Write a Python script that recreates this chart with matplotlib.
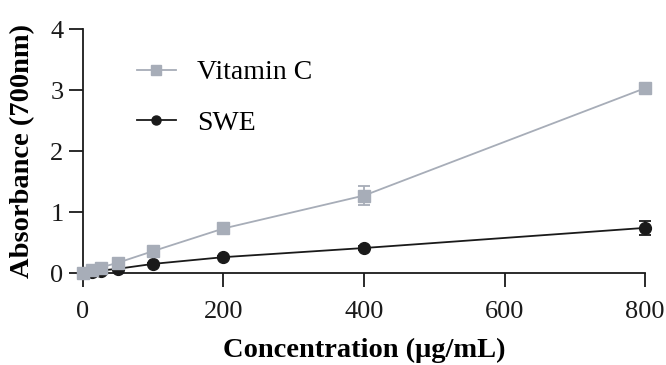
import matplotlib
matplotlib.use("Agg")
import matplotlib.pyplot as plt
from matplotlib.lines import Line2D

conc = [0, 12.5, 25, 50, 100, 200, 400, 800]
vitc = [0.00, 0.05, 0.09, 0.17, 0.36, 0.73, 1.27, 3.03]
vitc_err = [0.01, 0.01, 0.01, 0.02, 0.03, 0.04, 0.15, 0.05]
swe = [0.00, 0.02, 0.04, 0.07, 0.15, 0.26, 0.41, 0.74]
swe_err = [0.005, 0.005, 0.005, 0.01, 0.01, 0.02, 0.03, 0.12]

xticks = [0, 200, 400, 600, 800]
yticks = [0, 1, 2, 3, 4]

plt.rcParams['font.family'] = ['Liberation Serif', 'DejaVu Serif']

fig = plt.figure(figsize=(6.66, 3.65), dpi=100)
ax = fig.add_axes([0.1246, 0.252, 0.9685 - 0.1246, 0.9205 - 0.252])

c_vc = '#a7adb8'
c_swe = '#1a1a1a'

ax.errorbar(conc, vitc, yerr=vitc_err, color=c_vc, marker='s', ms=8.5, lw=1.3,
            capsize=4, capthick=1.3, elinewidth=1.3, clip_on=False, zorder=3)
ax.errorbar(conc, swe, yerr=swe_err, color=c_swe, marker='o', ms=8.5, lw=1.3,
            capsize=4, capthick=1.3, elinewidth=1.3, clip_on=False, zorder=2)

ax.set_xlim(0, 800)
ax.set_ylim(0, 4)
ax.set_xticks(xticks)
ax.set_yticks(yticks)
for s in ['top', 'right']:
    ax.spines[s].set_visible(False)
for s in ['left', 'bottom']:
    ax.spines[s].set_linewidth(1.3)
    ax.spines[s].set_color('#1a1a1a')
ax.tick_params(axis='both', length=10, width=1.3, labelsize=19, colors='#1a1a1a')
ax.tick_params(axis='x', pad=10)
ax.tick_params(axis='y', pad=4)

ax.set_xlabel('Concentration (μg/mL)', fontsize=20.5, fontweight='bold', labelpad=11)
ax.set_ylabel('Absorbance (700nm)', fontsize=20.5, fontweight='bold', labelpad=11)

handles = [Line2D([], [], color=c_vc, marker='s', ms=6.5, lw=1.3),
           Line2D([], [], color=c_swe, marker='o', ms=6.5, lw=1.3)]
ax.legend(handles, ['Vitamin C', 'SWE'], loc='upper left', bbox_to_anchor=(0.096, 0.873),
          frameon=False, fontsize=20, borderpad=0, borderaxespad=0,
          handlelength=1.4, labelspacing=0.9, handletextpad=0.75)

fig.savefig('out.png', dpi=100)
